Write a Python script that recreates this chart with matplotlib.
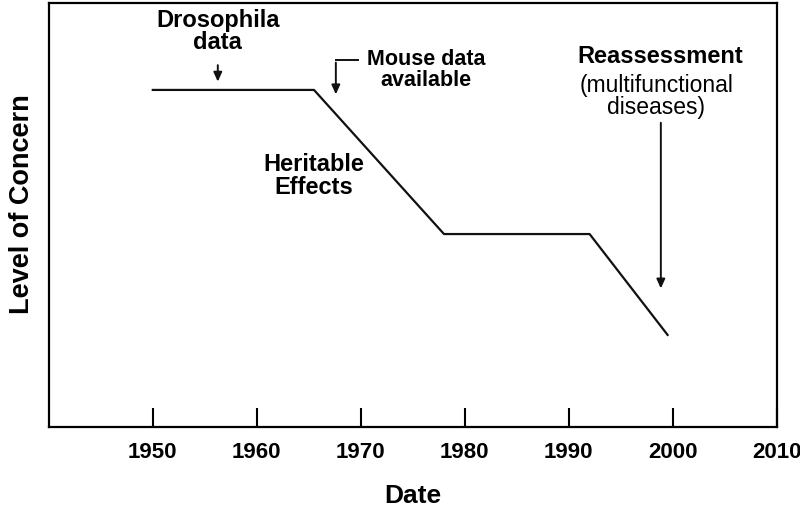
import matplotlib.pyplot as plt

plt.rcParams["font.family"] = ["Liberation Sans", "DejaVu Sans"]

# (x = year, y = level of concern, arbitrary 0-100 scale)
years = [1950, 1965.5, 1978, 1992, 1999.5]
concern = [79.5, 79.5, 45.5, 45.5, 21.7]
tick_years = [1950, 1960, 1970, 1980, 1990, 2000, 2010]

fig = plt.figure(figsize=(8, 5.07), dpi=100)
ax = fig.add_axes([0.061, 0.158, 0.91, 0.836])

ax.plot(years, concern, color="#111111", lw=1.6)

ax.set_xlim(1940, 2010)
ax.set_ylim(0, 100)
ax.set_xticks(tick_years)
ax.set_xticklabels([str(t) for t in tick_years], fontsize=16, fontweight="bold")
ax.set_yticks([])
ax.tick_params(axis="x", direction="in", length=14, width=1.5, pad=11)
for s in ax.spines.values():
    s.set_linewidth(1.6)

ax.set_xlabel("Date", fontsize=19, fontweight="bold", labelpad=15)
ax.set_ylabel("Level of Concern", fontsize=19.5, fontweight="bold", labelpad=10, y=0.525)

arrow = dict(arrowstyle="-|>,head_length=0.55,head_width=0.25", color="#111111", lw=1.4)

# Drosophila
ax.text(1956.25, 93.2, "Drosophila\ndata", ha="center", va="center",
        fontsize=17, fontweight="bold", linespacing=0.95)
ax.annotate("", xy=(1956.25, 80.8), xytext=(1956.25, 86.0), arrowprops=arrow)

# Mouse data
ax.text(1976.3, 84.2, "Mouse data\navailable", ha="center", va="center",
        fontsize=15.5, fontweight="bold", linespacing=1.0)
ax.plot([1969.7, 1967.6], [86.6, 86.6], color="#111111", lw=1.4)
ax.annotate("", xy=(1967.6, 77.8), xytext=(1967.6, 86.6), arrowprops=arrow)

# Heritable effects
ax.text(1965.5, 59.2, "Heritable\nEffects", ha="center", va="center",
        fontsize=17, fontweight="bold", linespacing=1.0)

# Reassessment
ax.text(1998.75, 87.3, "Reassessment", ha="center", va="center",
        fontsize=17, fontweight="bold")
ax.text(1998.4, 78.0, "(multifunctional\ndiseases)", ha="center", va="center",
        fontsize=16.5, linespacing=0.95)
ax.annotate("", xy=(1998.85, 32.0), xytext=(1998.85, 72.4), arrowprops=arrow)

fig.savefig("out.png", dpi=100)
